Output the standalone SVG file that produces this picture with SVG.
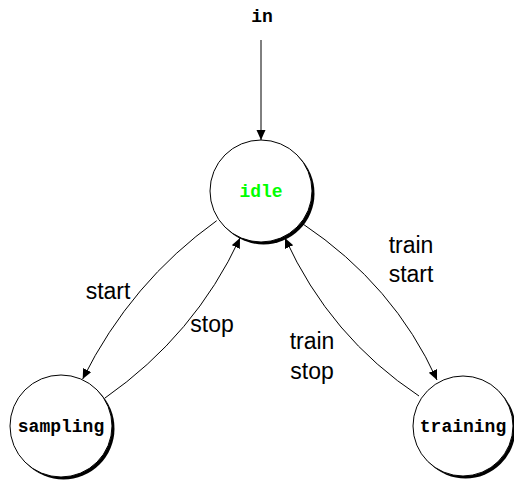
<svg xmlns="http://www.w3.org/2000/svg" width="514" height="483" viewBox="0 0 514 483">
  <defs>
    <style>
      .shadow { fill: #000; }
      .state { fill: #fff; stroke: #000; stroke-width: 1; }
      .name { font-family: "Liberation Mono", "Courier New", monospace; font-weight: bold; font-size: 18px; text-anchor: middle; fill: #000; }
      .edge { fill: none; stroke: #000; stroke-width: 1; }
      .label { font-family: "Liberation Sans", Arial, sans-serif; font-size: 23px; text-anchor: middle; fill: #000; }
    </style>
    <marker id="arrow" markerUnits="userSpaceOnUse" markerWidth="12" markerHeight="10" refX="10" refY="4.5" orient="auto">
      <path d="M0,0 L10,4.5 L0,9 Z" fill="#000"/>
    </marker>
  </defs>

  <rect width="514" height="483" fill="#fff"/>

  <!-- entry point -->
  <g id="entry">
    <text class="name" x="262" y="22">in</text>
  </g>

  <!-- transitions -->
  <g id="connectors">
    <path class="edge" d="M261,40 L261,140" marker-end="url(#arrow)"/>
    <!-- idle -> sampling (start) -->
    <path class="edge" d="M216.7,220.7 Q131,282 82.7,379" marker-end="url(#arrow)"/>
    <!-- sampling -> idle (stop) -->
    <path class="edge" d="M105,398 Q195,335 240,238" marker-end="url(#arrow)"/>
    <!-- idle -> training (train start) -->
    <path class="edge" d="M303,224 Q394,285 437,380" marker-end="url(#arrow)"/>
    <!-- training -> idle (train stop) -->
    <path class="edge" d="M419,396 Q330,337 285,238" marker-end="url(#arrow)"/>
  </g>

  <g id="edge-labels">
    <text class="label" x="108" y="299">start</text>
    <text class="label" x="212" y="332">stop</text>
    <text class="label" x="411" y="253">train</text>
    <text class="label" x="411" y="282">start</text>
    <text class="label" x="312" y="349">train</text>
    <text class="label" x="312" y="379">stop</text>
  </g>

  <!-- states -->
  <g id="idle">
    <circle class="shadow" cx="263.5" cy="193.5" r="51"/>
    <circle class="state" cx="261" cy="191" r="51"/>
    <text class="name" x="261" y="197" style="fill:#00ff00">idle</text>
  </g>

  <g id="sampling">
    <circle class="shadow" cx="63.5" cy="428.5" r="51"/>
    <circle class="state" cx="61" cy="426" r="51"/>
    <text class="name" x="61" y="432">sampling</text>
  </g>

  <g id="training">
    <circle class="shadow" cx="465.5" cy="428.5" r="50"/>
    <circle class="state" cx="463" cy="426" r="50"/>
    <text class="name" x="463" y="432">training</text>
  </g>
</svg>
